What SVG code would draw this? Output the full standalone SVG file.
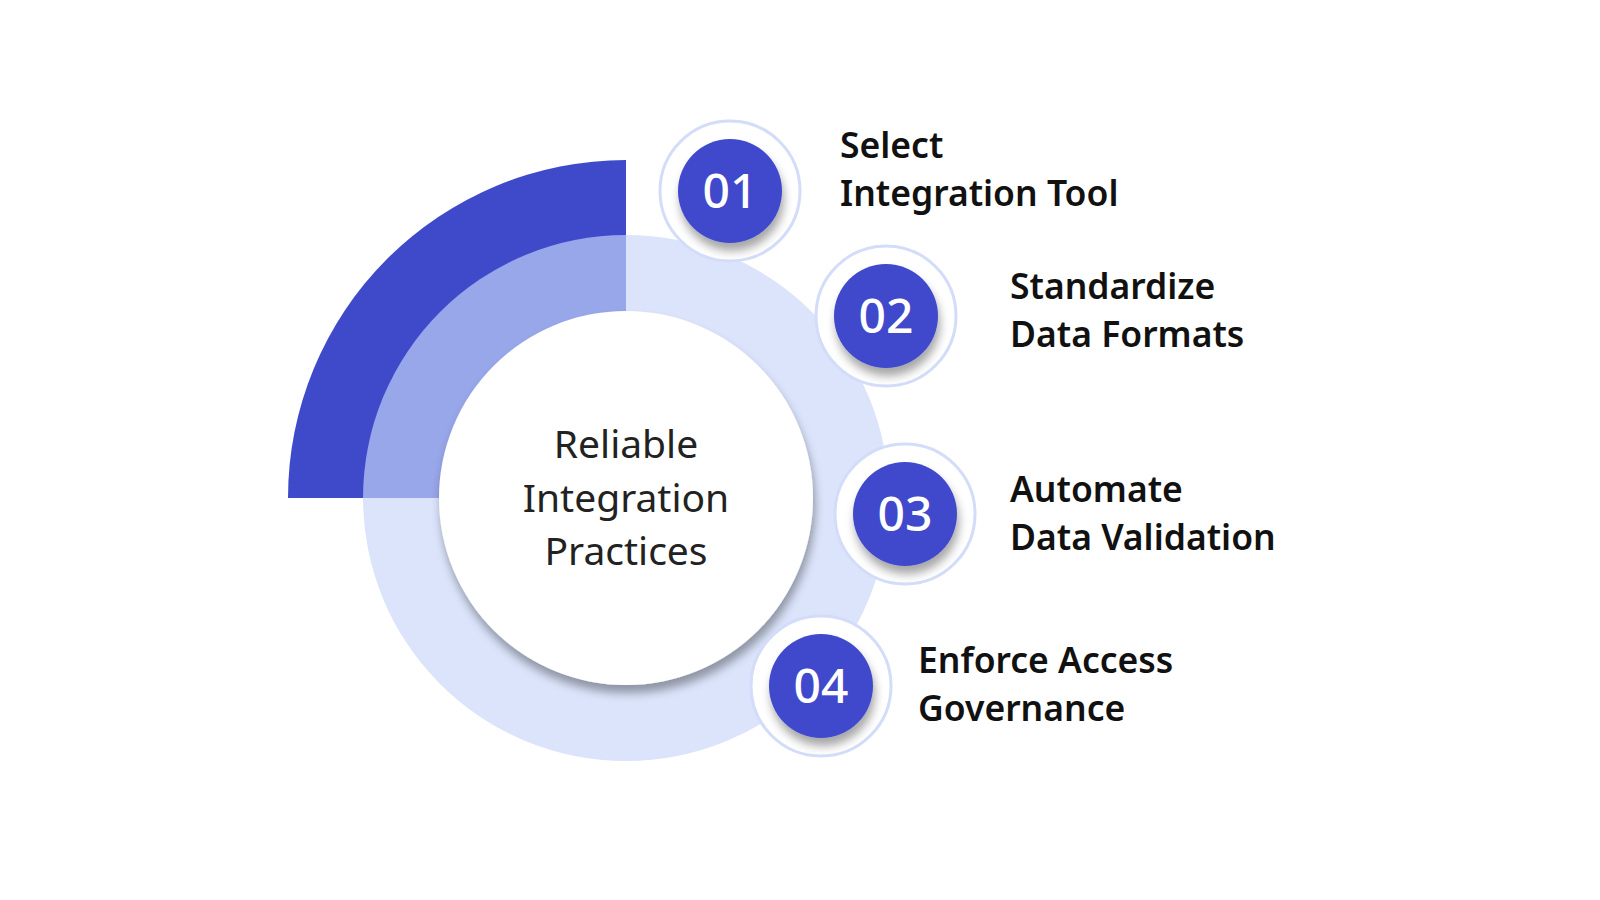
<svg xmlns="http://www.w3.org/2000/svg" width="1600" height="900" viewBox="0 0 1600 900">
<defs>
<style>
.lbl{font-family:"Noto Sans","Liberation Sans",sans-serif;font-weight:600;font-size:35.5px;fill:#111}
.num{font-family:"Noto Sans","Liberation Sans",sans-serif;font-weight:500;font-size:48px;fill:#fff}
.halo{fill:#fff;stroke:#d3dcf8;stroke-width:3}
.badge{fill:#3f4acb}
</style>
<filter id="sh" x="-30%" y="-30%" width="160%" height="160%"><feDropShadow dx="2" dy="8" stdDeviation="5" flood-color="#000" flood-opacity="0.35"/></filter>
</defs>
<rect width="1600" height="900" fill="#fff"/>
<g id="rings">
<circle cx="626" cy="498" r="263" fill="#dbe4fb"/>
<path d="M288 498 A338 338 0 0 1 626 160 L626 498 Z" fill="#3f4acb"/>
<path d="M363 498 A263 263 0 0 1 626 235 L626 498 Z" fill="#98a6ea"/>
</g>
<g id="center">
<circle cx="626" cy="498" r="187" fill="#fff" filter="url(#sh)"/>
<text x="626" y="498" text-anchor="middle" font-family="Noto Sans,Liberation Sans,sans-serif" font-size="39" fill="#222"><tspan x="626" y="458">Reliable</tspan><tspan x="626" y="512">Integration</tspan><tspan x="626" y="565">Practices</tspan></text>
</g>
<g id="n1"><circle class="halo" cx="730" cy="191" r="70"/><circle class="badge" cx="730" cy="191" r="52" filter="url(#sh)"/><text class="num" x="730" y="208" text-anchor="middle">01</text>
<text class="lbl"><tspan x="840" y="158">Select</tspan><tspan x="840" y="206">Integration Tool</tspan></text></g>
<g id="n2"><circle class="halo" cx="886" cy="316" r="70"/><circle class="badge" cx="886" cy="316" r="52" filter="url(#sh)"/><text class="num" x="886" y="333" text-anchor="middle">02</text>
<text class="lbl"><tspan x="1010" y="299">Standardize</tspan><tspan x="1010" y="347">Data Formats</tspan></text></g>
<g id="n3"><circle class="halo" cx="905" cy="514" r="70"/><circle class="badge" cx="905" cy="514" r="52" filter="url(#sh)"/><text class="num" x="905" y="531" text-anchor="middle">03</text>
<text class="lbl"><tspan x="1010" y="502">Automate</tspan><tspan x="1010" y="550">Data Validation</tspan></text></g>
<g id="n4"><circle class="halo" cx="821" cy="686" r="70"/><circle class="badge" cx="821" cy="686" r="52" filter="url(#sh)"/><text class="num" x="821" y="703" text-anchor="middle">04</text>
<text class="lbl"><tspan x="918" y="673">Enforce Access</tspan><tspan x="918" y="721">Governance</tspan></text></g>
<g id="connectors"/>
</svg>
